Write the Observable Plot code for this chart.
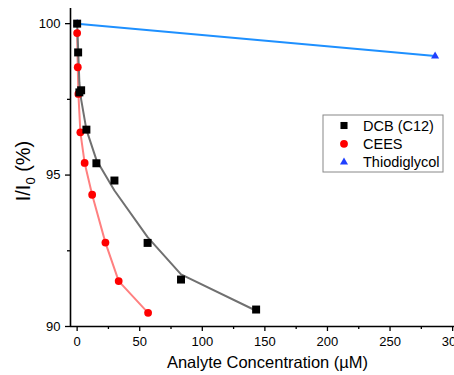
<!DOCTYPE html>
<html>
<head>
<meta charset="utf-8">
<script src="https://cdn.jsdelivr.net/npm/d3@7"></script>
<script src="https://cdn.jsdelivr.net/npm/@observablehq/plot@0.6"></script>
<style>
  body { margin: 0; background: #fff; overflow: hidden; }
  #chart { position: relative; width: 454px; height: 375px; }
</style>
</head>
<body>
<div id="chart"></div>
<script>
// ---- data ----
const dcbX = [0, 0.8, 1.8, 3.2, 7.4, 15.4, 29.8, 56.3, 83, 143];
const dcbY = [100, 99.05, 97.73, 97.8, 96.5, 95.39, 94.82, 92.76, 91.55, 90.56];
const dcbFitY = [100, 99.15, 98.05, 97.5, 96.5, 95.5, 94.49, 92.95, 91.72, 90.52];

const ceesX = [0, 0.5, 1, 2.6, 6, 12, 22.6, 33.2, 56.7];
const ceesY = [99.69, 98.56, 97.68, 96.41, 95.4, 94.35, 92.77, 91.5, 90.45];

const tdgX = [0, 286];
const tdgY = [100, 98.93];

const seriesNames = ["DCB (C12)", "CEES", "Thiodiglycol"];
const xTicks = [0, 50, 100, 150, 200, 250, 300];
const xMinor = [25, 75, 125, 175, 225, 275];
const yTicks = [90, 95, 100];
const yMinor = [92.5, 97.5];
const xDomain = [-5.3, 301.5];
const yDomain = [90, 100.5];
const xTitle = "Analyte Concentration (µM)";

// ---- build tables ----
const dcb = dcbX.map((x, i) => ({x, y: dcbY[i], fit: dcbFitY[i]}));
const cees = ceesX.map((x, i) => ({x, y: ceesY[i]}));
const tdg = tdgX.map((x, i) => ({x, y: tdgY[i]}));

const W = 454, H = 375;
const plot = Plot.plot({
  width: W,
  height: H,
  marginLeft: 70,
  marginRight: 0,
  marginTop: 8,
  marginBottom: 49,
  style: {fontFamily: "'Liberation Sans', Arial, sans-serif", fontSize: "13px", background: "#fff", overflow: "visible", color: "#000"},
  x: {domain: xDomain},
  y: {domain: yDomain},
  marks: [
    Plot.axisX({ticks: xTicks, tickSize: 5, tickPadding: 5, strokeWidth: 1.3, label: null, fontSize: 13}),
    Plot.axisX({ticks: xMinor, tickSize: 3, text: null, strokeWidth: 1.3, label: null}),
    Plot.axisY({ticks: yTicks, tickSize: 5, tickPadding: 5, strokeWidth: 1.3, label: null, fontSize: 13}),
    Plot.axisY({ticks: yMinor, tickSize: 3, text: null, strokeWidth: 1.3, label: null}),
    Plot.ruleX([xDomain[0]], {stroke: "#000", strokeWidth: 1.6}),
    Plot.ruleY([yDomain[0]], {stroke: "#000", strokeWidth: 1.6}),
    Plot.line(tdg, {x: "x", y: "y", stroke: "#1e90ff", strokeWidth: 2}),
    Plot.line(cees, {x: "x", y: "y", stroke: "#ff8080", strokeWidth: 2}),
    Plot.line(dcb, {x: "x", y: "fit", stroke: "#707070", strokeWidth: 2}),
    Plot.dot(tdg, {x: "x", y: "y", symbol: "triangle", r: 3, fill: "#2040ff", stroke: null}),
    Plot.dot(cees, {x: "x", y: "y", symbol: "circle", r: 3.9, fill: "#ff0000", stroke: null}),
    Plot.dot(dcb, {x: "x", y: "y", symbol: "square", r: 4.5, fill: "#000", stroke: null}),
    Plot.text([xTitle], {frameAnchor: "bottom", dy: 36, dx: 5, fontSize: 16.5, fill: "#000", lineAnchor: "middle"})
  ]
});
document.getElementById("chart").appendChild(plot);

// y axis title with subscript
const svg = d3.select(plot);
const yt = svg.append("text")
  .attr("transform", "translate(30,171) rotate(-90)")
  .attr("text-anchor", "middle")
  .attr("font-size", 20)
  .attr("font-family", "'Liberation Sans', Arial, sans-serif")
  .attr("fill", "#000");
yt.append("tspan").text("I/I");
yt.append("tspan").attr("font-size", 13).attr("dy", 5).text("0");
yt.append("tspan").attr("dy", -5).text(" (%)");

// legend
const lg = svg.append("g").attr("transform", "translate(323,115)");
lg.append("rect").attr("width", 120).attr("height", 57).attr("fill", "#fff").attr("stroke", "#888").attr("stroke-width", 1);
const legendItems = [
  {name: seriesNames[0], sym: d3.symbolSquare, size: 50, fill: "#000"},
  {name: seriesNames[1], sym: d3.symbolCircle, size: 48, fill: "#ff0000"},
  {name: seriesNames[2], sym: d3.symbolTriangle, size: 28, fill: "#2040ff"}
];
legendItems.forEach((d, i) => {
  const g = lg.append("g").attr("transform", `translate(21,${10.5 + i * 18.3})`);
  g.append("path").attr("d", d3.symbol(d.sym, d.size)()).attr("fill", d.fill);
  g.append("text").attr("x", 19).attr("dy", "0.35em").attr("font-size", 14.5)
    .attr("text-anchor", "start")
    .attr("font-family", "'Liberation Sans', Arial, sans-serif").attr("fill", "#000").text(d.name);
});
</script>
</body>
</html>
